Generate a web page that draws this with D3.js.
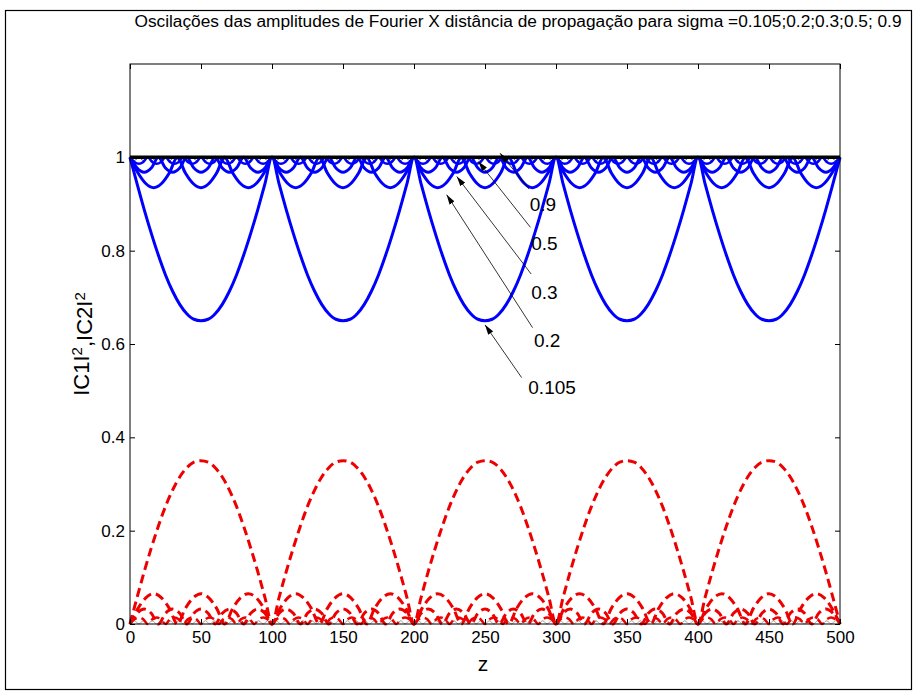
<!DOCTYPE html>
<html>
<head>
<meta charset="utf-8">
<script src="https://cdn.jsdelivr.net/npm/d3@7"></script>
<style>
  body { margin: 0; background: #fff; }
  text { font-family: "Liberation Sans", Arial, sans-serif; }
</style>
</head>
<body>
<div id="chart"></div>
<script>

// data

const titleText = "Oscilações das amplitudes de Fourier X distância de propagação para sigma =0.105;0.2;0.3;0.5; 0.9"
const xTicks = [0, 50, 100, 150, 200, 250, 300, 350, 400, 450, 500]
const yTicks = [0, 0.2, 0.4, 0.6, 0.8, 1]

// sample positions along z for each sigma
const z0105 = d3.range(0, 501, 5)
const z02 = d3.range(91).map(k => k * 500 / 90)
const z03 = d3.range(0, 501, 5)
const z05 = d3.range(161).map(k => k * 3.125)
const z09 = d3.range(161).map(k => k * 3.125)

// |C1|^2 (blue)
const c1s0105 = [
  1,.943,.888,.837,.79,.748,.713,.685,.665,.653,.65,.653,.665,.685,.713,.748,.79,.837,.888,.943,
  1,.943,.888,.837,.79,.748,.713,.685,.665,.653,.65,.653,.665,.685,.713,.748,.79,.837,.888,.943,
  1,.943,.888,.837,.79,.748,.713,.685,.665,.653,.65,.653,.665,.685,.713,.748,.79,.837,.888,.943,
  1,.943,.888,.837,.79,.748,.713,.685,.665,.653,.65,.653,.665,.685,.713,.748,.79,.837,.888,.943,
  1,.943,.888,.837,.79,.748,.713,.685,.665,.653,.65,.653,.665,.685,.713,.748,.79,.837,.888,.943,
  1]
const c1s02 = [
  1,.967,.944,.935,.944,.967, 1,.967,.944,.935,.944,.967, 1,.967,.944,.935,.944,.967,
  1,.967,.944,.935,.944,.967, 1,.967,.944,.935,.944,.967, 1,.967,.944,.935,.944,.967,
  1,.967,.944,.935,.944,.967, 1,.967,.944,.935,.944,.967, 1,.967,.944,.935,.944,.967,
  1,.967,.944,.935,.944,.967, 1,.967,.944,.935,.944,.967, 1,.967,.944,.935,.944,.967,
  1,.967,.944,.935,.944,.967, 1,.967,.944,.935,.944,.967, 1,.967,.944,.935,.944,.967,
  1]
const c1s03 = [
  1,.977,.968,.977, 1,.977,.968,.977, 1,.977,.968,.977, 1,.977,.968,.977, 1,.977,.968,.977,
  1,.977,.968,.977, 1,.977,.968,.977, 1,.977,.968,.977, 1,.977,.968,.977, 1,.977,.968,.977,
  1,.977,.968,.977, 1,.977,.968,.977, 1,.977,.968,.977, 1,.977,.968,.977, 1,.977,.968,.977,
  1,.977,.968,.977, 1,.977,.968,.977, 1,.977,.968,.977, 1,.977,.968,.977, 1,.977,.968,.977,
  1,.977,.968,.977, 1,.977,.968,.977, 1,.977,.968,.977, 1,.977,.968,.977, 1,.977,.968,.977,
  1]
const c1s05 = [
  1,.99,.986,.99, 1,.99,.986,.99, 1,.99,.986,.99, 1,.99,.986,.99, 1,.99,.986,.99, 1,.99,.986,.99, 1,.99,.986,.99, 1,.99,.986,.99,
  1,.99,.986,.99, 1,.99,.986,.99, 1,.99,.986,.99, 1,.99,.986,.99, 1,.99,.986,.99, 1,.99,.986,.99, 1,.99,.986,.99, 1,.99,.986,.99,
  1,.99,.986,.99, 1,.99,.986,.99, 1,.99,.986,.99, 1,.99,.986,.99, 1,.99,.986,.99, 1,.99,.986,.99, 1,.99,.986,.99, 1,.99,.986,.99,
  1,.99,.986,.99, 1,.99,.986,.99, 1,.99,.986,.99, 1,.99,.986,.99, 1,.99,.986,.99, 1,.99,.986,.99, 1,.99,.986,.99, 1,.99,.986,.99,
  1,.99,.986,.99, 1,.99,.986,.99, 1,.99,.986,.99, 1,.99,.986,.99, 1,.99,.986,.99, 1,.99,.986,.99, 1,.99,.986,.99, 1,.99,.986,.99,
  1]
const c1s09 = [
  1,.993, 1,.993, 1,.993, 1,.993, 1,.993, 1,.993, 1,.993, 1,.993, 1,.993, 1,.993, 1,.993, 1,.993, 1,.993, 1,.993, 1,.993, 1,.993,
  1,.993, 1,.993, 1,.993, 1,.993, 1,.993, 1,.993, 1,.993, 1,.993, 1,.993, 1,.993, 1,.993, 1,.993, 1,.993, 1,.993, 1,.993, 1,.993,
  1,.993, 1,.993, 1,.993, 1,.993, 1,.993, 1,.993, 1,.993, 1,.993, 1,.993, 1,.993, 1,.993, 1,.993, 1,.993, 1,.993, 1,.993, 1,.993,
  1,.993, 1,.993, 1,.993, 1,.993, 1,.993, 1,.993, 1,.993, 1,.993, 1,.993, 1,.993, 1,.993, 1,.993, 1,.993, 1,.993, 1,.993, 1,.993,
  1,.993, 1,.993, 1,.993, 1,.993, 1,.993, 1,.993, 1,.993, 1,.993, 1,.993, 1,.993, 1,.993, 1,.993, 1,.993, 1,.993, 1,.993, 1,.993,
  1]

// |C2|^2 (red dashed)
const c2s0105 = [
  0,.057,.112,.163,.21,.252,.287,.315,.335,.347,.35,.347,.335,.315,.287,.252,.21,.163,.112,.057,
  0,.057,.112,.163,.21,.252,.287,.315,.335,.347,.35,.347,.335,.315,.287,.252,.21,.163,.112,.057,
  0,.057,.112,.163,.21,.252,.287,.315,.335,.347,.35,.347,.335,.315,.287,.252,.21,.163,.112,.057,
  0,.057,.112,.163,.21,.252,.287,.315,.335,.347,.35,.347,.335,.315,.287,.252,.21,.163,.112,.057,
  0,.057,.112,.163,.21,.252,.287,.315,.335,.347,.35,.347,.335,.315,.287,.252,.21,.163,.112,.057,
  0]
const c2s02 = [
  0,.033,.056,.065,.056,.033, 0,.033,.056,.065,.056,.033, 0,.033,.056,.065,.056,.033,
  0,.033,.056,.065,.056,.033, 0,.033,.056,.065,.056,.033, 0,.033,.056,.065,.056,.033,
  0,.033,.056,.065,.056,.033, 0,.033,.056,.065,.056,.033, 0,.033,.056,.065,.056,.033,
  0,.033,.056,.065,.056,.033, 0,.033,.056,.065,.056,.033, 0,.033,.056,.065,.056,.033,
  0,.033,.056,.065,.056,.033, 0,.033,.056,.065,.056,.033, 0,.033,.056,.065,.056,.033,
  0]
const c2s03 = [
  0,.023,.032,.023, 0,.023,.032,.023, 0,.023,.032,.023, 0,.023,.032,.023, 0,.023,.032,.023,
  0,.023,.032,.023, 0,.023,.032,.023, 0,.023,.032,.023, 0,.023,.032,.023, 0,.023,.032,.023,
  0,.023,.032,.023, 0,.023,.032,.023, 0,.023,.032,.023, 0,.023,.032,.023, 0,.023,.032,.023,
  0,.023,.032,.023, 0,.023,.032,.023, 0,.023,.032,.023, 0,.023,.032,.023, 0,.023,.032,.023,
  0,.023,.032,.023, 0,.023,.032,.023, 0,.023,.032,.023, 0,.023,.032,.023, 0,.023,.032,.023,
  0]
const c2s05 = [
  0,.01,.014,.01, 0,.01,.014,.01, 0,.01,.014,.01, 0,.01,.014,.01, 0,.01,.014,.01, 0,.01,.014,.01, 0,.01,.014,.01, 0,.01,.014,.01,
  0,.01,.014,.01, 0,.01,.014,.01, 0,.01,.014,.01, 0,.01,.014,.01, 0,.01,.014,.01, 0,.01,.014,.01, 0,.01,.014,.01, 0,.01,.014,.01,
  0,.01,.014,.01, 0,.01,.014,.01, 0,.01,.014,.01, 0,.01,.014,.01, 0,.01,.014,.01, 0,.01,.014,.01, 0,.01,.014,.01, 0,.01,.014,.01,
  0,.01,.014,.01, 0,.01,.014,.01, 0,.01,.014,.01, 0,.01,.014,.01, 0,.01,.014,.01, 0,.01,.014,.01, 0,.01,.014,.01, 0,.01,.014,.01,
  0,.01,.014,.01, 0,.01,.014,.01, 0,.01,.014,.01, 0,.01,.014,.01, 0,.01,.014,.01, 0,.01,.014,.01, 0,.01,.014,.01, 0,.01,.014,.01,
  0]
const c2s09 = [
  0,.007, 0,.007, 0,.007, 0,.007, 0,.007, 0,.007, 0,.007, 0,.007, 0,.007, 0,.007, 0,.007, 0,.007, 0,.007, 0,.007, 0,.007, 0,.007,
  0,.007, 0,.007, 0,.007, 0,.007, 0,.007, 0,.007, 0,.007, 0,.007, 0,.007, 0,.007, 0,.007, 0,.007, 0,.007, 0,.007, 0,.007, 0,.007,
  0,.007, 0,.007, 0,.007, 0,.007, 0,.007, 0,.007, 0,.007, 0,.007, 0,.007, 0,.007, 0,.007, 0,.007, 0,.007, 0,.007, 0,.007, 0,.007,
  0,.007, 0,.007, 0,.007, 0,.007, 0,.007, 0,.007, 0,.007, 0,.007, 0,.007, 0,.007, 0,.007, 0,.007, 0,.007, 0,.007, 0,.007, 0,.007,
  0,.007, 0,.007, 0,.007, 0,.007, 0,.007, 0,.007, 0,.007, 0,.007, 0,.007, 0,.007, 0,.007, 0,.007, 0,.007, 0,.007, 0,.007, 0,.007,
  0]

// |C1|^2 + |C2|^2
const sumZ = [0, 500]
const sumVal = [1, 1]

// arrow annotations: label, tip (z, value), tail (z, value), text (z, value)
const annLabels = ["0.9", "0.5", "0.3", "0.2", "0.105"]
const annTip = [[260.6, 1.009], [245.3, 0.991], [230.1, 0.959], [223, 0.92], [250, 0.641]]
const annTail = [[281, 0.932], [282, 0.85], [282.5, 0.75], [283.5, 0.635], [275.8, 0.528]]
const annText = [[281.5, 0.9], [282.5, 0.815], [282.5, 0.71], [284.5, 0.607], [280.5, 0.507]]

// setup

const W = 916, H = 694
const margin = ({top: 64, right: 76, bottom: 70, left: 130})
const width = W - margin.left - margin.right,
    height = H - margin.top - margin.bottom

const svg = d3.select("#chart").append("svg")
    .attr("width", W)
    .attr("height", H)

svg.append("rect")
    .attr("x", 5.5).attr("y", 10.5)
    .attr("width", 906).attr("height", 679)
    .attr("fill", "none")
    .attr("stroke", "#000")
    .attr("stroke-width", 1.2)

const g = svg.append("g")
    .attr("transform", `translate(${margin.left},${margin.top})`)

const xScale = d3.scaleLinear().domain([0, 500]).range([0, width])
const yScale = d3.scaleLinear().domain([0, 1.2]).range([height, 0])

g.append("rect")
    .attr("width", width).attr("height", height)
    .attr("fill", "#fff")

// curves

const blueSeries = [
    {z: z0105, v: c1s0105, w: 3, c: "#0000ff"},
    {z: z02, v: c1s02, w: 3, c: "#0000ff"},
    {z: z03, v: c1s03, w: 3, c: "#0000ff"},
    {z: z05, v: c1s05, w: 2.5, c: "#0000ff"},
    {z: z09, v: c1s09, w: 1, c: "#555"}
]
const redSeries = [
    {z: z0105, v: c2s0105, w: 3, c: "#ee0000"},
    {z: z02, v: c2s02, w: 3, c: "#ee0000"},
    {z: z03, v: c2s03, w: 3, c: "#ee0000"},
    {z: z05, v: c2s05, w: 2.5, c: "#ee0000"},
    {z: z09, v: c2s09, w: 1, c: "#999"}
]

function lineFor(s) {
    return d3.line()
        .x((d, i) => xScale(s.z[i]))
        .y(d => yScale(d))
        .curve(d3.curveMonotoneX)(s.v)
}

const plot = g.append("g")

plot.selectAll(".c1")
    .data(blueSeries.slice().reverse())
    .enter().append("path")
    .attr("class", "c1")
    .attr("d", lineFor)
    .attr("fill", "none")
    .attr("stroke", d => d.c)
    .attr("stroke-width", d => d.w)
    .attr("stroke-linejoin", "round")

plot.selectAll(".c2")
    .data(redSeries.slice().reverse())
    .enter().append("path")
    .attr("class", "c2")
    .attr("d", lineFor)
    .attr("fill", "none")
    .attr("stroke", d => d.c)
    .attr("stroke-width", d => d.w)
    .attr("stroke-dasharray", d => d.w > 2 ? "9,5" : null)

plot.append("path")
    .attr("d", lineFor({z: sumZ, v: sumVal}))
    .attr("fill", "none")
    .attr("stroke", "#000")
    .attr("stroke-width", 3.5)

// axes (MATLAB style box with inward ticks)

const axFont = 17

const xAxis = d3.axisBottom(xScale).tickValues(xTicks).tickSizeInner(-5).tickSizeOuter(0).tickPadding(7)
const xAxisTop = d3.axisTop(xScale).tickValues(xTicks).tickSizeInner(-5).tickSizeOuter(0).tickFormat("")
const yAxis = d3.axisLeft(yScale).tickValues(yTicks).tickSizeInner(-5).tickSizeOuter(0).tickPadding(5)
    .tickFormat(d => d3.format("")(+d.toFixed(1)))
const yAxisRight = d3.axisRight(yScale).tickValues(yTicks).tickSizeInner(-5).tickSizeOuter(0).tickFormat("")

g.append("g").attr("transform", `translate(0,${height})`).call(xAxis)
g.append("g").call(xAxisTop)
g.append("g").call(yAxis)
g.append("g").attr("transform", `translate(${width},0)`).call(yAxisRight)

g.selectAll(".domain").remove()
g.selectAll(".tick line").attr("stroke", "#000")
g.selectAll(".tick text")
    .attr("fill", "#000")
    .style("font-size", axFont + "px")
    .style("font-family", "'Liberation Sans', Arial, sans-serif")

g.append("rect")
    .attr("width", width).attr("height", height)
    .attr("fill", "none")
    .attr("stroke", "#000")
    .attr("stroke-width", 1)

// annotations

svg.append("defs").append("marker")
    .attr("id", "head")
    .attr("viewBox", "0 0 10 6")
    .attr("refX", 10).attr("refY", 3)
    .attr("markerWidth", 10).attr("markerHeight", 6)
    .attr("markerUnits", "userSpaceOnUse")
    .attr("orient", "auto")
    .append("path")
    .attr("d", "M0,0L10,3L0,6Z")
    .attr("fill", "#000")

const ann = g.selectAll(".ann")
    .data(annLabels)
    .enter().append("g")
    .attr("class", "ann")

ann.append("line")
    .attr("x1", (d, i) => xScale(annTail[i][0]))
    .attr("y1", (d, i) => yScale(annTail[i][1]))
    .attr("x2", (d, i) => xScale(annTip[i][0]))
    .attr("y2", (d, i) => yScale(annTip[i][1]))
    .attr("stroke", "#000")
    .attr("stroke-width", 0.8)
    .attr("marker-end", "url(#head)")

ann.append("text")
    .attr("x", (d, i) => xScale(annText[i][0]))
    .attr("y", (d, i) => yScale(annText[i][1]))
    .attr("dy", "0.35em")
    .style("font-size", "19px")
    .text(d => d)

// labels

svg.append("text")
    .attr("x", 518).attr("y", 27)
    .attr("text-anchor", "middle")
    .style("font-size", "17.3px")
    .text(titleText)

svg.append("text")
    .attr("x", margin.left + width / 2 - 2).attr("y", 671)
    .attr("text-anchor", "middle")
    .style("font-size", "21px")
    .text("z")

const yl = svg.append("text")
    .attr("transform", `translate(89,${margin.top + height / 2}) rotate(-90)`)
    .attr("text-anchor", "middle")
    .style("font-size", "22px")
yl.append("tspan").text("IC1I")
yl.append("tspan").attr("dy", "-0.45em").style("font-size", "15px").text("2")
yl.append("tspan").attr("dy", "0.45em").text(",IC2I")
yl.append("tspan").attr("dy", "-0.45em").style("font-size", "15px").text("2")

</script>
</body>
</html>
